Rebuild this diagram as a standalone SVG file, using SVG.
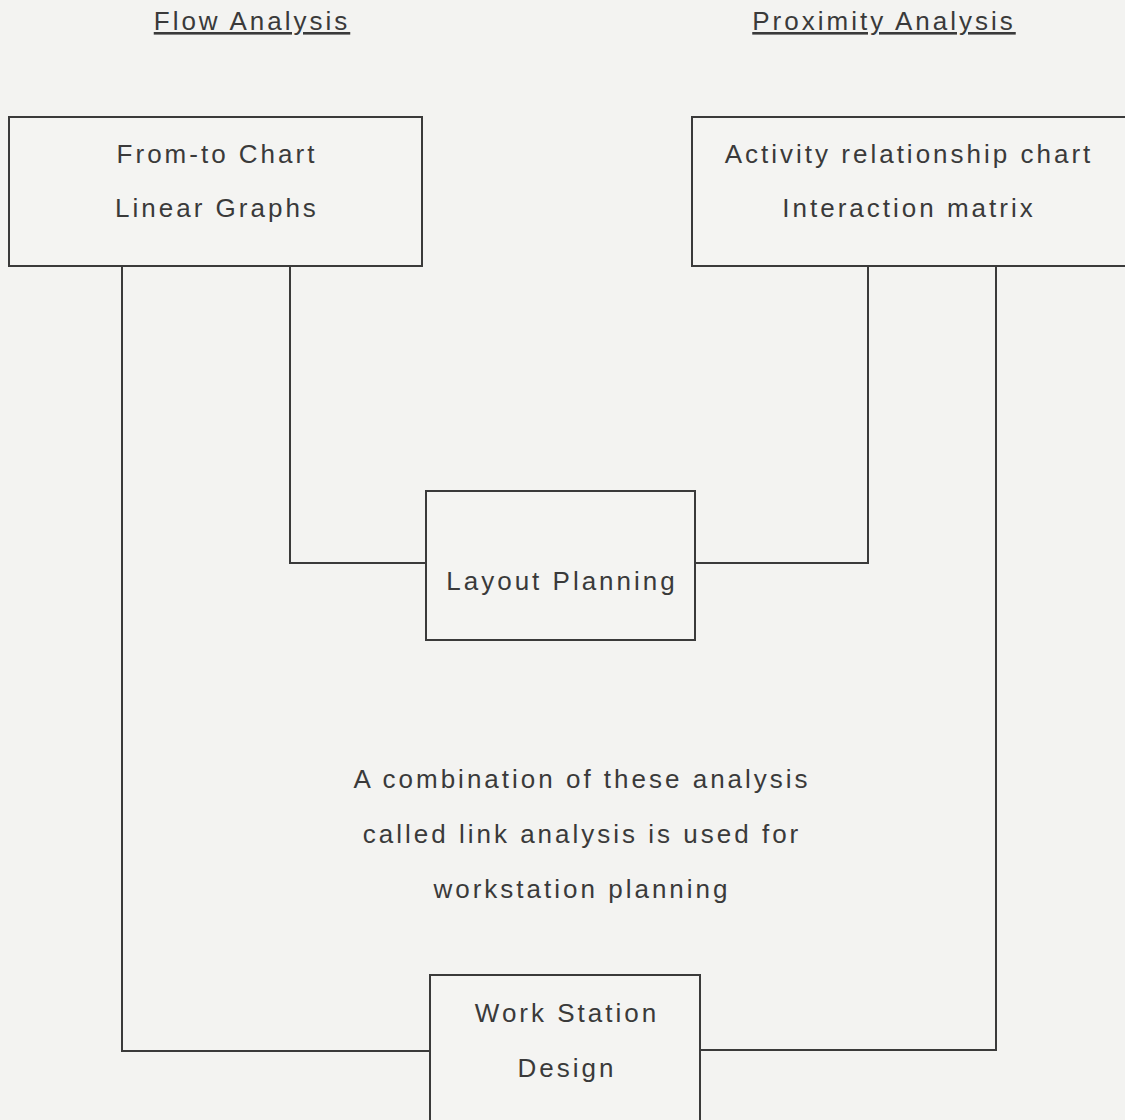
<svg xmlns="http://www.w3.org/2000/svg" width="1125" height="1120" viewBox="0 0 1125 1120">
  <style>
    .bg { fill: #f3f3f1; }
    .box { fill: #f4f4f2; stroke: #3a3a3a; stroke-width: 2; }
    .wire { fill: none; stroke: #3a3a3a; stroke-width: 2; }
    text { font-family: "Liberation Sans", Arial, sans-serif; font-size: 26px; letter-spacing: 3px; fill: #3a3a3a; text-anchor: middle; }
    .head { text-decoration: underline; }
  </style>
  <rect class="bg" x="0" y="0" width="1125" height="1120"/>

  <!-- column headings -->
  <g id="heading-flow"><text class="head" x="252" y="30">Flow Analysis</text></g>
  <g id="heading-proximity"><text class="head" x="884" y="30">Proximity Analysis</text></g>

  <!-- connectors -->
  <g id="connectors">
    <polyline class="wire" points="290,266 290,563 426,563"/>
    <polyline class="wire" points="868,266 868,563 695,563"/>
    <polyline class="wire" points="122,266 122,1051 430,1051"/>
    <polyline class="wire" points="996,266 996,1050 700,1050"/>
  </g>

  <g id="flow-tools">
    <rect class="box" x="9" y="117" width="413" height="149"/>
    <text x="217" y="163">From-to Chart</text>
    <text x="217" y="217">Linear Graphs</text>
  </g>

  <g id="proximity-tools">
    <rect class="box" x="692" y="117" width="440" height="149"/>
    <text x="909" y="163">Activity relationship chart</text>
    <text x="909" y="217">Interaction matrix</text>
  </g>

  <g id="layout-planning">
    <rect class="box" x="426" y="491" width="269" height="149"/>
    <text x="562" y="590">Layout Planning</text>
  </g>

  <g id="note">
    <text x="582" y="788">A combination of these analysis</text>
    <text x="582" y="843">called link analysis is used for</text>
    <text x="582" y="898">workstation planning</text>
  </g>

  <g id="work-station-design">
    <rect class="box" x="430" y="975" width="270" height="160"/>
    <text x="567" y="1022">Work Station</text>
    <text x="567" y="1077">Design</text>
  </g>
</svg>
